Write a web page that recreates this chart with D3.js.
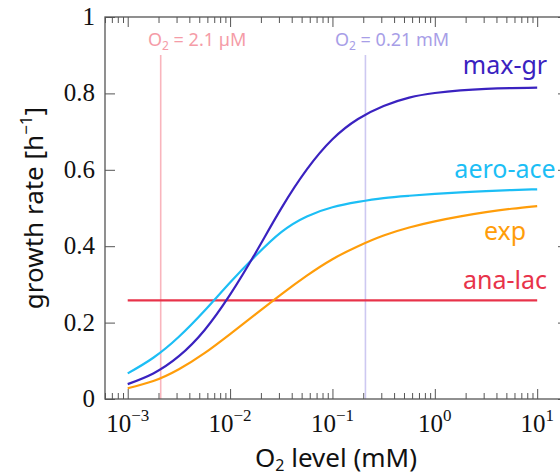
<!DOCTYPE html>
<html>
<head>
<meta charset="utf-8">
<script src="https://cdn.jsdelivr.net/npm/d3@7"></script>
<style>
  html, body { margin: 0; padding: 0; background: #fff; }
  svg { display: block; }
</style>
</head>
<body>
<svg id="chart" width="560" height="475"></svg>
<script>
// ---- data ----
const logO2 = [-3, -2.75, -2.5, -2.25, -2, -1.75, -1.5, -1.25, -1, -0.75, -0.5, -0.25, 0, 0.25, 0.5, 0.75, 1];
const maxGr   = [0.039, 0.067, 0.112, 0.180, 0.273, 0.383, 0.499, 0.601, 0.680, 0.733, 0.767, 0.789, 0.801, 0.808, 0.812, 0.814, 0.815];
const aeroAce = [0.067, 0.108, 0.163, 0.231, 0.305, 0.375, 0.437, 0.478, 0.502, 0.516, 0.526, 0.532, 0.537, 0.541, 0.544, 0.547, 0.549];
const expRate = [0.028, 0.047, 0.078, 0.120, 0.170, 0.222, 0.274, 0.323, 0.366, 0.400, 0.428, 0.449, 0.465, 0.478, 0.489, 0.498, 0.505];
const anaLac  = [0.258, 0.258, 0.258, 0.258, 0.258, 0.258, 0.258, 0.258, 0.258, 0.258, 0.258, 0.258, 0.258, 0.258, 0.258, 0.258, 0.258];
const seriesNames = ["max-gr", "aero-ace", "exp", "ana-lac"];
const seriesColors = ["#3a22c0", "#1cbef5", "#ff9d0a", "#e8334a"];
const seriesLabelY = [0.851, 0.578, 0.416, 0.287];   // label baselines in data units
const refLines = [0.0021, 0.21];                    // mM
const refLabels = ["2.1 µM", "0.21 mM"];
const refColors = ["#f9b5bd", "#cdc8f1"];
const refTextColors = ["#f59ca7", "#a79ee7"];
const xMajor = [-3, -2, -1, 0, 1];
const yTicks = [0, 0.2, 0.4, 0.6, 0.8, 1];
const yTickLabels = ["0", "0.2", "0.4", "0.6", "0.8", "1"];

// ---- chart ----
const svg = d3.select("#chart");
const x = d3.scaleLog().domain([6e-4, 20]).range([105, 568]);
const y = d3.scaleLinear().domain([0, 1]).range([399, 17]);
const axisColor = "#555";

// minor ticks
const minorTicks = [];
for (let d = -4; d <= 1; d++) {
  for (let m = 2; m <= 9; m++) {
    const v = m * Math.pow(10, d);
    if (v >= 6e-4 && v <= 20) minorTicks.push(v);
  }
}
const majorTicks = xMajor.map(e => Math.pow(10, e));

function styleAxis(g) {
  g.select(".domain").remove();
  g.selectAll(".tick line").attr("stroke", axisColor).attr("stroke-width", 1);
  g.selectAll(".tick text").remove();
}

// bottom
svg.append("g").attr("transform", "translate(0,399)")
  .call(d3.axisBottom(x).tickValues(minorTicks).tickSize(-6).tickSizeOuter(0).tickFormat(""))
  .call(styleAxis);
svg.append("g").attr("transform", "translate(0,399)")
  .call(d3.axisBottom(x).tickValues(majorTicks).tickSize(-10).tickSizeOuter(0).tickFormat(""))
  .call(styleAxis);
// top
svg.append("g").attr("transform", "translate(0,17)")
  .call(d3.axisTop(x).tickValues(minorTicks).tickSize(-6).tickSizeOuter(0).tickFormat(""))
  .call(styleAxis);
svg.append("g").attr("transform", "translate(0,17)")
  .call(d3.axisTop(x).tickValues(majorTicks).tickSize(-10).tickSizeOuter(0).tickFormat(""))
  .call(styleAxis);
// left / right
svg.append("g").attr("transform", "translate(105,0)")
  .call(d3.axisLeft(y).tickValues(yTicks).tickSize(-10).tickSizeOuter(0).tickFormat(""))
  .call(styleAxis);
svg.append("g").attr("transform", "translate(568,0)")
  .call(d3.axisRight(y).tickValues(yTicks).tickSize(-10).tickSizeOuter(0).tickFormat(""))
  .call(styleAxis);

// reference vertical lines
refLines.forEach((v, i) => {
  svg.append("line")
    .attr("x1", x(v)).attr("x2", x(v))
    .attr("y1", 55).attr("y2", y(0))
    .attr("stroke", refColors[i]).attr("stroke-width", 1.6);
});
const refLabelX = [148, 335];
refLines.forEach((v, i) => {
  const t = svg.append("text")
    .attr("x", refLabelX[i]).attr("y", 46)
    .attr("fill", refTextColors[i])
    .attr("font-family", "'Noto Sans', sans-serif")
    .attr("font-size", 18);
  t.append("tspan").text("O");
  t.append("tspan").attr("font-size", 12).attr("dy", 4).text("2");
  t.append("tspan").attr("dy", -4).text(" = " + refLabels[i]);
});

// series
const line = d3.line().x(d => x(Math.pow(10, d[0]))).y(d => y(d[1])).curve(d3.curveNatural);
const allSeries = [maxGr, aeroAce, expRate, anaLac];
// draw order: ana-lac, exp, aero-ace, max-gr
[3, 2, 1, 0].forEach(i => {
  const pts = logO2.map((l, k) => [l, allSeries[i][k]]);
  svg.append("path").datum(pts)
    .attr("d", line)
    .attr("fill", "none")
    .attr("stroke", seriesColors[i])
    .attr("stroke-width", 2.2);
});

// series labels
seriesNames.forEach((n, i) => {
  svg.append("text")
    .attr("x", 505).attr("y", y(seriesLabelY[i]))
    .attr("text-anchor", "middle")
    .attr("fill", seriesColors[i])
    .attr("font-family", "'Noto Sans', sans-serif")
    .attr("font-size", 25)
    .text(n);
});

// frame
svg.append("rect")
  .attr("x", 105).attr("y", 17)
  .attr("width", 568 - 105).attr("height", 399 - 17)
  .attr("fill", "none").attr("stroke", axisColor).attr("stroke-width", 1.3);

// y tick labels
yTicks.forEach((v, i) => {
  svg.append("text")
    .attr("x", 95).attr("y", y(v) + 8)
    .attr("text-anchor", "end")
    .attr("font-family", "'Liberation Serif', serif")
    .attr("font-size", 25)
    .attr("fill", "#111")
    .text(yTickLabels[i]);
});

// x tick labels
xMajor.forEach(e => {
  const t = svg.append("text")
    .attr("x", x(Math.pow(10, e))).attr("y", 432)
    .attr("text-anchor", "middle")
    .attr("font-family", "'Liberation Serif', serif")
    .attr("font-size", 25)
    .attr("fill", "#111");
  t.append("tspan").text("10");
  t.append("tspan").attr("font-size", 17).attr("dy", -11).text(e < 0 ? "\u2212" + (-e) : String(e));
});

// axis titles
const xt = svg.append("text")
  .attr("x", 336).attr("y", 467)
  .attr("text-anchor", "middle")
  .attr("font-family", "'Noto Sans', sans-serif")
  .attr("font-size", 26)
  .attr("fill", "#111");
xt.append("tspan").text("O");
xt.append("tspan").attr("font-size", 16).attr("dy", 4).text("2");
xt.append("tspan").attr("dy", -4).text(" level (mM)");

const yt = svg.append("text")
  .attr("transform", "translate(43,208) rotate(-90)")
  .attr("text-anchor", "middle")
  .attr("font-family", "'Noto Sans', sans-serif")
  .attr("font-size", 26)
  .attr("fill", "#111");
yt.append("tspan").text("growth rate [h");
yt.append("tspan").attr("font-size", 17).attr("dy", -11).text("\u22121");
yt.append("tspan").attr("dy", 11).text("]");
</script>
</body>
</html>
